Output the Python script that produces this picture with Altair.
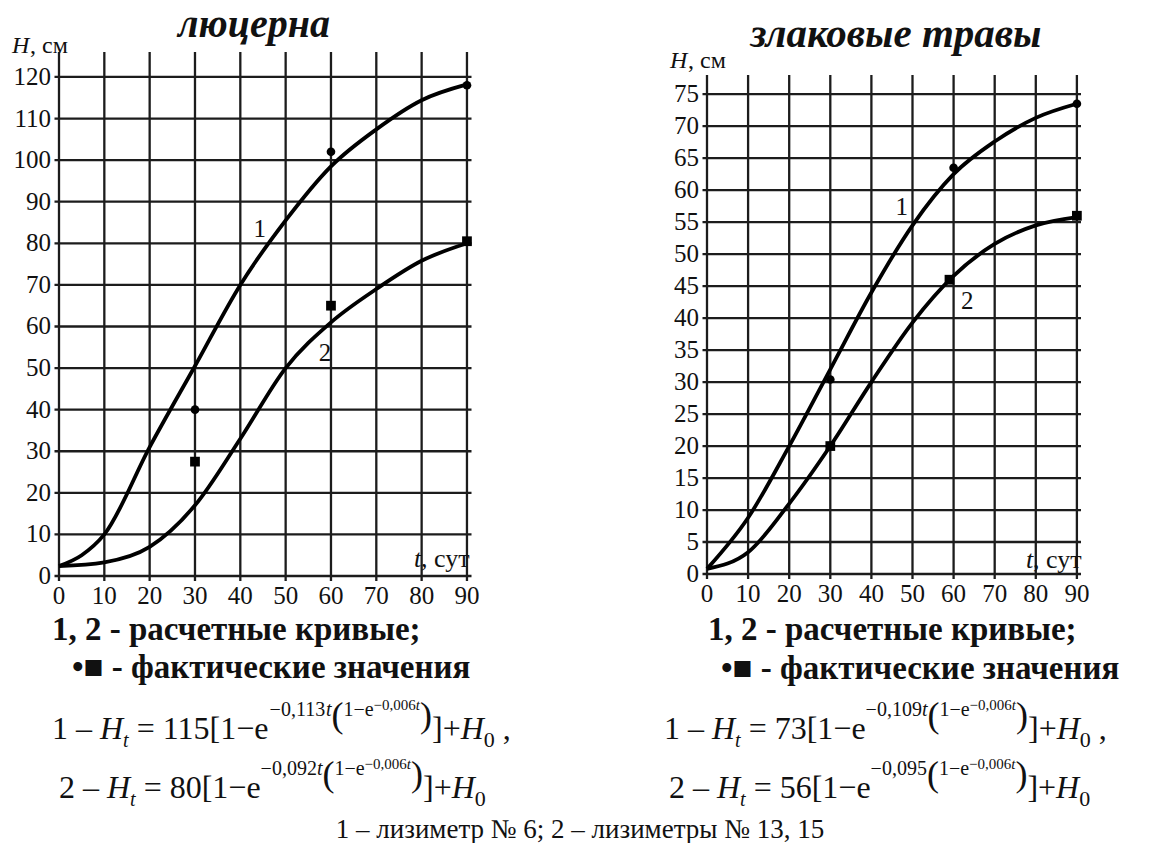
import altair as alt
import pandas as pd

# ---------------- люцерна ----------------
luc_t = [0, 5, 10, 20, 30, 40, 50, 60, 70, 80, 90]
luc_curve1 = [2.4, 5, 10, 31, 50.5, 70, 85.5, 98.5, 107.4, 114.4, 118.2]
luc_t2 = [0, 10, 20, 30, 40, 50, 60, 70, 80, 90]
luc_curve2 = [2.4, 3.3, 7, 17, 33, 50, 61, 69, 75.8, 80]
luc_obs_t1 = [30, 60, 90]
luc_obs1 = [40, 102, 118]
luc_obs_t2 = [30, 60, 90]
luc_obs2 = [27.5, 65, 80.5]
luc_yticks = list(range(0, 121, 10))

# ---------------- злаковые травы ----------------
grass_t = [0, 10, 20, 30, 40, 50, 60, 70, 80, 90]
grass_curve1 = [0.8, 8.8, 20, 32, 44, 54.5, 62.5, 67.6, 71.3, 73.5]
grass_t2 = [0, 10, 20, 30, 40, 50, 60, 70, 80, 90]
grass_curve2 = [0.8, 3.4, 11, 20, 30, 39.3, 46.6, 51.6, 54.5, 55.8]
grass_obs_t1 = [30, 60, 90]
grass_obs1 = [30.4, 63.5, 73.5]
grass_obs_t2 = [30, 59, 90]
grass_obs2 = [20, 46, 56]
grass_yticks = list(range(0, 76, 5))

x_ticks = list(range(0, 91, 10))

SERIF = "Liberation Serif"
INK = "#111111"
GRID = "#1c1c1c"


def panel(curve1, curve2, obs1, obs2, yticks, ydom, xrange, yrange, labels):
    xs = alt.Scale(domain=[0, 91], range=xrange, nice=False, zero=False)
    ys = alt.Scale(domain=ydom, range=yrange, nice=False, zero=False)
    xpx = (xrange[1] - xrange[0]) / 91.0
    ypx = (yrange[0] - yrange[1]) / (ydom[1] - ydom[0])

    def X(f):
        return alt.X(f, type="quantitative", scale=xs, axis=None)

    def Y(f):
        return alt.Y(f, type="quantitative", scale=ys, axis=None)

    vdf = pd.DataFrame({"t": x_ticks, "lo": -5 / ypx, "hi": ydom[1]})
    hdf = pd.DataFrame({"v": yticks, "lo": -4.5 / xpx, "hi": 91})
    vgrid = alt.Chart(vdf).mark_rule(color=GRID, strokeWidth=2.3).encode(
        x=X("t"), y=Y("lo"), y2="hi")
    hgrid = alt.Chart(hdf).mark_rule(color=GRID, strokeWidth=2.3).encode(
        y=Y("v"), x=X("lo"), x2="hi")

    ylab = pd.DataFrame({"v": yticks, "z": 0, "s": [str(v) for v in yticks]})
    ylabels = alt.Chart(ylab).mark_text(
        font=SERIF, fontSize=25, color=INK, align="right", baseline="middle", dx=-8
    ).encode(x=X("z"), y=Y("v"), text="s:N")
    xlab = pd.DataFrame({"t": x_ticks, "z": 0, "s": [str(v) for v in x_ticks]})
    xlabels = alt.Chart(xlab).mark_text(
        font=SERIF, fontSize=25, color=INK, align="center", baseline="middle", dy=20
    ).encode(x=X("t"), y=Y("z"), text="s:N")

    (t1, h1), (t2, h2) = curve1, curve2
    cdf = pd.concat([
        pd.DataFrame({"t": t1, "h": h1, "k": "1"}),
        pd.DataFrame({"t": t2, "h": h2, "k": "2"}),
    ])
    lines = alt.Chart(cdf).mark_line(
        interpolate="monotone", color="black", strokeWidth=3.8
    ).encode(x=X("t"), y=Y("h"), detail="k:N")

    (ot1, oh1), (ot2, oh2) = obs1, obs2
    circles = alt.Chart(pd.DataFrame({"t": ot1, "h": oh1})).mark_point(
        shape="circle", filled=True, size=75, color="black", opacity=1
    ).encode(x=X("t"), y=Y("h"))
    squares = alt.Chart(pd.DataFrame({"t": ot2, "h": oh2})).mark_point(
        shape="square", filled=True, size=95, color="black", opacity=1
    ).encode(x=X("t"), y=Y("h"))

    ldf = pd.DataFrame(labels, columns=["t", "h", "s"])
    curve_labels = alt.Chart(ldf).mark_text(
        font=SERIF, fontSize=25, color=INK, baseline="middle"
    ).encode(x=X("t"), y=Y("h"), text="s:N")

    return alt.layer(vgrid, hgrid, lines, circles, squares, ylabels, xlabels, curve_labels)


left = panel(
    (luc_t, luc_curve1), (luc_t2, luc_curve2),
    (luc_obs_t1, luc_obs1), (luc_obs_t2, luc_obs2),
    luc_yticks, [0, 126], [59, 471.5], [576, 52],
    [(44.3, 83.5, "1"), (58.7, 53.7, "2")],
)
right = panel(
    (grass_t, grass_curve1), (grass_t2, grass_curve2),
    (grass_obs_t1, grass_obs1), (grass_obs_t2, grass_obs2),
    grass_yticks, [0, 78], [707, 1081], [574, 75],
    [(47.4, 57.3, "1"), (63.3, 42.6, "2")],
)


def txt(s, x, y, size, weight="normal", style="normal", align="left"):
    return alt.Chart(pd.DataFrame({"s": [s]})).mark_text(
        font=SERIF, fontSize=size, fontWeight=weight, fontStyle=style,
        align=align, baseline="alphabetic", color=INK,
    ).encode(x=alt.value(x), y=alt.value(y), text="s:N")


# advance widths (em) of the serif face, used to set formula pieces side by side
ADV = {" ": .25, ",": .25, "–": .5, "−": .564, "=": .564, "+": .564, "[": .333,
       "]": .333, "(": .333, ")": .333, "e": .444, "t": .278, "H": .722}
# piece style: font size, baseline shift, italic
PIECE = {
    "m": (32, 0, False), "mi": (32, 0, True),
    "sub": (20, 8, True), "sub0": (22, 8, False),
    "s1": (20, -23, False), "s1i": (20, -23, True),
    "s2": (15, -29, False), "s2i": (15, -29, True),
    "par": (36, -12, False),
}


def formula(pieces, x0, base):
    out = []
    x = x0
    for s, kind in pieces:
        size, shift, ital = PIECE[kind]
        lead = len(s) - len(s.lstrip(" "))
        body = s.strip(" ")
        out.append(txt(body, x + lead * ADV[" "] * size, base + shift, size,
                       style="italic" if ital else "normal"))
        x += sum(ADV.get(c, .5) for c in s) * size
    return out


def pieces(num, k, with_t, comma):
    p = [(f"{num[0]} – ", "m"), ("H", "mi"), ("t", "sub"), (" = ", "m"),
         (f"{num[1]}[1−e", "m"), (f"−0,{k}", "s1")]
    if with_t:
        p.append(("t", "s1i"))
    p += [("(", "par"), ("1−e", "s1"), ("−0,006", "s2"), ("t", "s2i"),
          (")", "par"), ("]+", "m"), ("H", "mi"), ("0", "sub0")]
    if comma:
        p.append((" ,", "m"))
    return p


texts = [
    txt("люцерна", 254, 37, 40, "bold", "italic", "center"),
    txt("злаковые травы", 896, 47, 41, "bold", "italic", "center"),
    txt("H", 12, 53, 24, style="italic"), txt(", см", 30, 53, 24),
    txt("H", 670, 68, 24, style="italic"), txt(", см", 688, 68, 24),
    txt("t", 414, 567, 26, style="italic"), txt(", сут", 421, 567, 26),
    txt("t", 1026, 568, 26, style="italic"), txt(", сут", 1033, 568, 26),
    txt("1, 2 - расчетные кривые;", 52, 640, 33, "bold"),
    txt("•■ - фактические значения", 72, 678, 33, "bold"),
    txt("1, 2 - расчетные кривые;", 708, 640, 33, "bold"),
    txt("•■  - фактические значения", 721, 679, 33, "bold"),
    txt("1 – лизиметр № 6; 2 – лизиметры № 13, 15", 580, 838, 27, align="center"),
]
texts += formula(pieces(("1", "115"), "113", True, True), 52, 739)
texts += formula(pieces(("2", "80"), "092", True, False), 59, 798)
texts += formula(pieces(("1", "73"), "109", True, True), 664, 739)
texts += formula(pieces(("2", "56"), "095", False, False), 669, 798)

chart = alt.layer(left, right, *texts).resolve_scale(
    x="independent", y="independent"
).properties(
    width=1157, height=843, autosize=alt.AutoSizeParams(type="none"), padding=0,
    background="white",
).configure_view(stroke=None)

chart.save("out.html", embed_options={"renderer": "svg", "actions": False})
